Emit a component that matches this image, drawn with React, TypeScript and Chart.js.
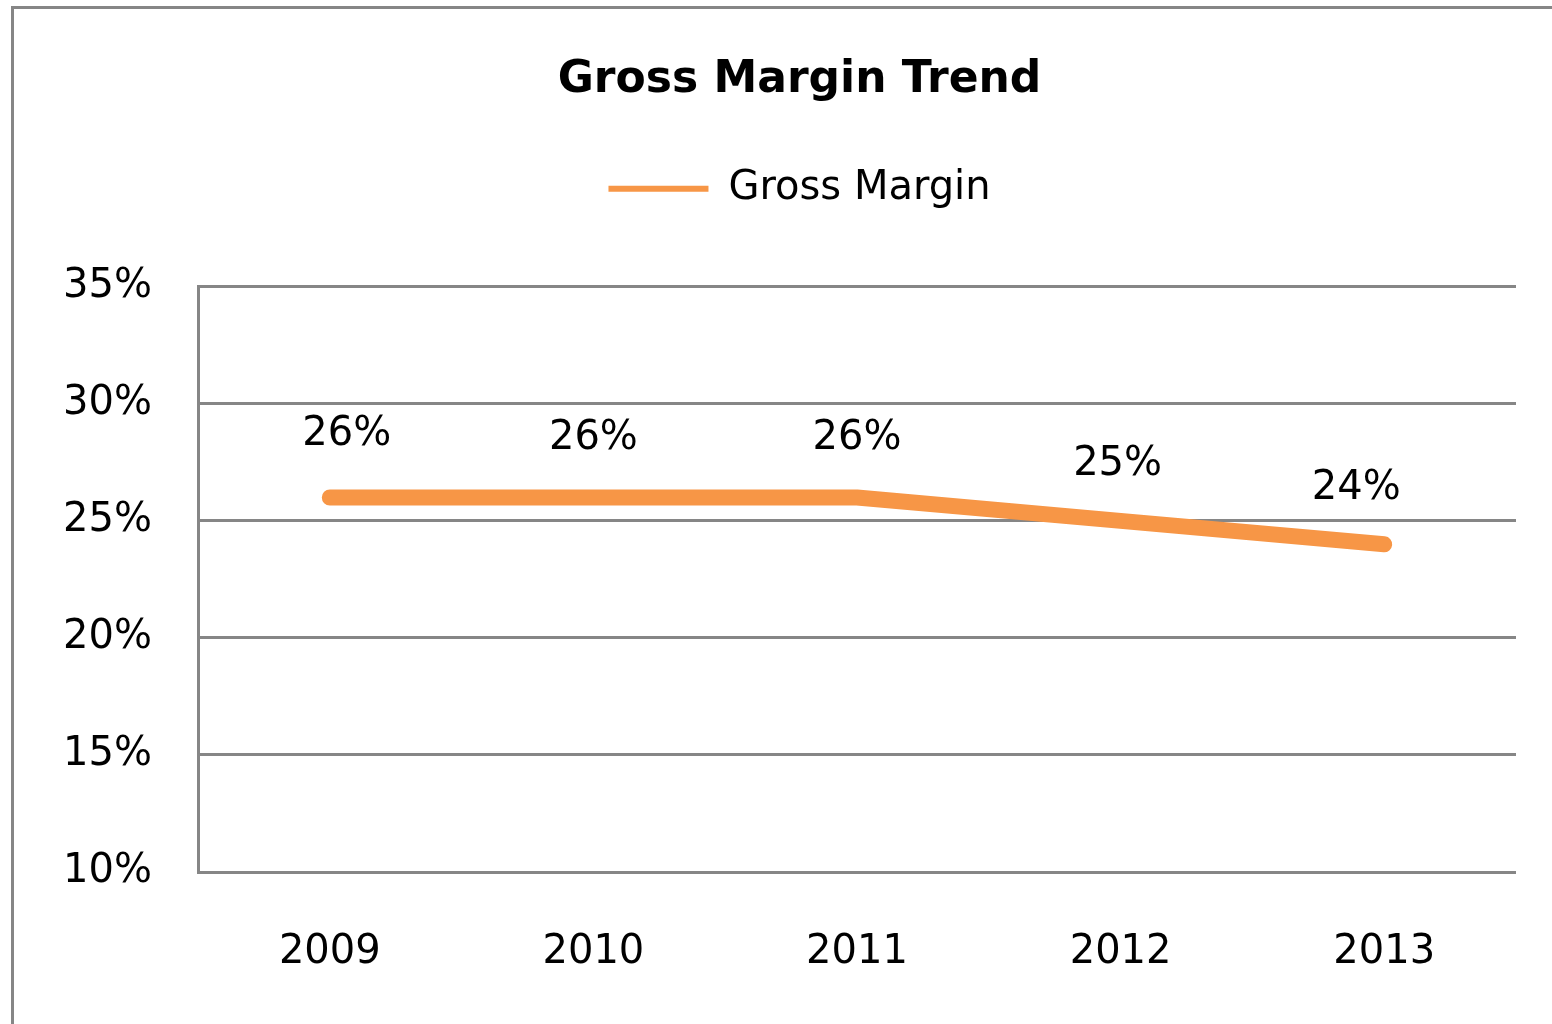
import React, { useEffect, useRef } from "react";
import { Chart, registerables } from "chart.js";

Chart.register(...registerables);

const categories = ["2009", "2010", "2011", "2012", "2013"];
const grossMargin = [26, 26, 26, 25, 24];
const yTickMin = 10;
const yTickMax = 35;
const yTickStep = 5;
const seriesName = "Gross Margin";
const chartTitle = "Gross Margin Trend";

const labelShiftX = [17, 0, 0, -3, -28];
const labelShiftY = [-63, -59, -59, -56, -56];
const FONT = '"DejaVu Sans", sans-serif';
const GRAY = "#868686";
const ORANGE = "#F79646";

const dataLabelPlugin = {
  id: "dataLabels",
  afterDatasetsDraw(chart: any) {
    const ctx = chart.ctx;
    const meta = chart.getDatasetMeta(0);
    ctx.save();
    ctx.font = `40px ${FONT}`;
    ctx.fillStyle = "#000";
    ctx.textAlign = "center";
    ctx.textBaseline = "middle";
    meta.data.forEach((pt: any, i: number) => {
      ctx.fillText(`${grossMargin[i]}%`, pt.x + labelShiftX[i], pt.y + labelShiftY[i]);
    });
    ctx.restore();
  },
};

// Centre title and legend on the full chart frame (which extends left of the y axis labels)
const headerShiftPlugin = {
  id: "headerShift",
  afterLayout(chart: any) {
    const dx = 83;
    if (chart.titleBlock) chart.titleBlock.left += dx;
    if (chart.legend) chart.legend.left += dx;
  },
};

export default function App() {
  const canvasRef = useRef<HTMLCanvasElement | null>(null);

  useEffect(() => {
    if (!canvasRef.current) return;
    const chart = new Chart(canvasRef.current, {
      type: "line",
      data: {
        labels: categories,
        datasets: [
          {
            label: seriesName,
            data: grossMargin,
            borderColor: ORANGE,
            backgroundColor: ORANGE,
            borderWidth: 16,
            borderCapStyle: "round",
            borderJoinStyle: "round",
            pointRadius: 0,
            pointHoverRadius: 0,
            tension: 0,
            fill: false,
          },
        ],
      },
      options: {
        responsive: false,
        animation: false,
        layout: { padding: { left: 0, right: 36, top: 0, bottom: 0 } },
        plugins: {
          title: {
            display: true,
            text: chartTitle,
            color: "#000",
            font: { family: FONT, size: 44, weight: "bold" },
            padding: { top: 54, bottom: 52 },
          },
          legend: {
            display: true,
            position: "top",
            labels: {
              color: "#000",
              font: { family: FONT, size: 40 },
              boxWidth: 100,
              boxHeight: 6,
              padding: 10,
              generateLabels(chart: any) {
                const items = (Chart.defaults.plugins.legend.labels as any).generateLabels(chart);
                items.forEach((it: any) => {
                  it.lineWidth = 0;
                  it.fillStyle = ORANGE;
                  it.strokeStyle = ORANGE;
                });
                return items;
              },
            },
          },
          subtitle: {
            display: true,
            text: "",
            weight: 500,
            font: { size: 10 },
            padding: { top: 56, bottom: 0 },
          } as any,
          tooltip: { enabled: false },
        },
        scales: {
          x: {
            grid: { display: false, drawTicks: false },
            border: { display: false },
            offset: true,
            ticks: {
              color: "#000",
              font: { family: FONT, size: 40 },
              padding: 57,
            },
            afterFit(scale: any) {
              scale.height = 152;
            },
          },
          y: {
            min: yTickMin,
            max: yTickMax,
            grid: { color: GRAY, lineWidth: 3, drawTicks: false },
            border: { display: true, color: GRAY, width: 3 },
            ticks: {
              stepSize: yTickStep,
              color: "#000",
              font: { family: FONT, size: 40 },
              padding: 46,
              callback: (v: any) => `${v}%`,
            },
            afterFit(scale: any) {
              scale.width = 198;
            },
          },
        },
      },
      plugins: [dataLabelPlugin, headerShiftPlugin],
    });
    return () => chart.destroy();
  }, []);

  return (
    <div
      style={{
        position: "absolute",
        left: 0,
        top: 0,
        width: 1552,
        height: 1024,
        overflow: "hidden",
        background: "#fff",
      }}
    >
      <div
        style={{
          position: "absolute",
          left: 11,
          top: 6,
          width: 1700,
          height: 1200,
          borderLeft: `3px solid ${GRAY}`,
          borderTop: `3px solid ${GRAY}`,
        }}
      />
      <canvas
        ref={canvasRef}
        width={1552}
        height={1024}
        style={{ position: "absolute", left: 0, top: 0, width: 1552, height: 1024 }}
      />
    </div>
  );
}
